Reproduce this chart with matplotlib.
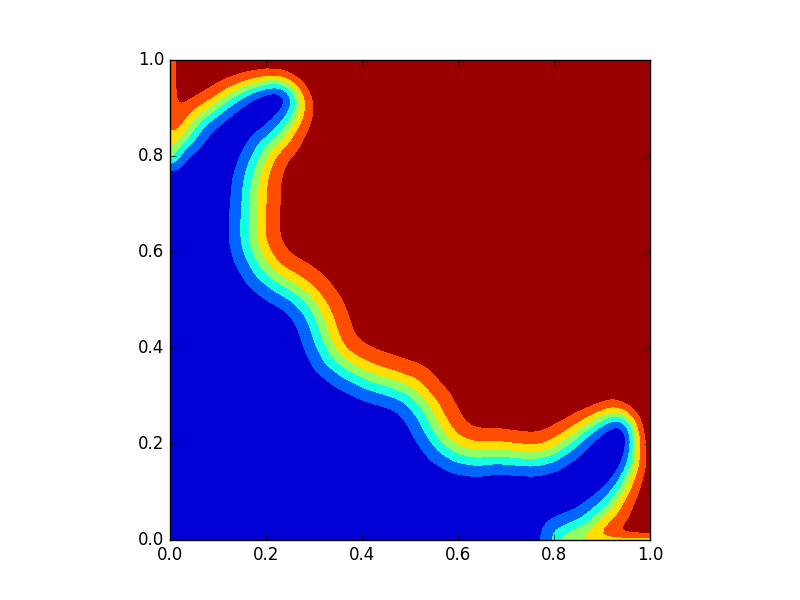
import numpy as np
import matplotlib
matplotlib.use("Agg")
import matplotlib.pyplot as plt
from matplotlib.path import Path

plt.style.use("classic")

# middle of the coloured band (value ~0.5), axes units
iface_x = [-0.008, -0.008, 0.0035, 0.0125, 0.0313, 0.0583, 0.0938, 0.1285,
           0.1625, 0.1979, 0.2327, 0.2583, 0.2667, 0.2625, 0.2521, 0.2292,
           0.2000, 0.1833, 0.1750, 0.1729, 0.1708, 0.1708, 0.1813, 0.2000,
           0.2292, 0.2604, 0.2833, 0.3021, 0.3146, 0.3250, 0.3417, 0.3708,
           0.4167, 0.4583, 0.5000, 0.5348, 0.5556, 0.5765, 0.6042, 0.6390,
           0.6806, 0.7152, 0.7569, 0.7917, 0.8265, 0.8604, 0.8958, 0.9229,
           0.9458, 0.9604, 0.9667, 0.9688, 0.9667, 0.9625, 0.9438, 0.9146,
           0.8688, 0.8188, 0.8160, 1.5]
iface_y = [1.5, 0.8000, 0.7979, 0.8188, 0.8369, 0.8750, 0.9010, 0.9256,
           0.9427, 0.9531, 0.9542, 0.9375, 0.9125, 0.8896, 0.8708, 0.8396,
           0.8125, 0.7771, 0.7438, 0.7083, 0.6667, 0.6250, 0.5938, 0.5625,
           0.5396, 0.5229, 0.5042, 0.4792, 0.4521, 0.4167, 0.3833, 0.3604,
           0.3375, 0.3250, 0.3104, 0.2708, 0.2292, 0.2015, 0.1840, 0.1771,
           0.1806, 0.1771, 0.1735, 0.1806, 0.2021, 0.2290, 0.2520, 0.2625,
           0.2583, 0.2438, 0.2229, 0.2021, 0.1771, 0.1521, 0.1104, 0.0688,
           0.0271, 0.0042, -0.001, -0.001]
# width of the band from 0.15 to 0.9 at each point (pixels of the 480 px axes)
band_px = [16, 16, 30, 34, 38, 40, 36, 33,
           28, 24, 21, 22, 26, 30, 34, 40,
           44, 46, 48, 49, 50, 50, 52, 52,
           52, 52, 52, 52, 52, 52, 52, 52,
           52, 52, 52, 52, 52, 52, 50, 48,
           45, 44, 43, 42, 40, 34, 28, 26,
           21, 18, 16, 17, 20, 23, 30, 40,
           47, 50, 10, 10]

levels = [0.0, 0.15, 0.3, 0.45, 0.6, 0.75, 0.9, 1.05]

px = np.array(iface_x)
py = np.array(iface_y)
eps = np.array(band_px) / 480.0 / 1.966

n = 250
gx, gy = np.meshgrid(np.linspace(0, 1, n), np.linspace(0, 1, n))
X = gx.ravel()
Y = gy.ravel()

# scaled distance to the nearest piece of the interface
s = np.full(X.shape, np.inf)
for i in range(len(px) - 1):
    ax_, ay_ = px[i], py[i]
    dx, dy = px[i + 1] - ax_, py[i + 1] - ay_
    t = ((X - ax_) * dx + (Y - ay_) * dy) / (dx * dx + dy * dy)
    t = np.clip(t, 0, 1)
    d = np.hypot(X - ax_ - t * dx, Y - ay_ - t * dy)
    e = eps[i] + t * (eps[i + 1] - eps[i])
    s = np.minimum(s, d / e)

poly = np.column_stack([np.r_[px, 1.5, -0.5, -0.5], np.r_[py, -0.5, -0.5, 1.5]])
inside = Path(poly).contains_points(np.column_stack([X, Y]))
sign = np.where(inside, -1.0, 1.0)
Z = (0.5 * (1 + sign * np.tanh(s))).reshape(gx.shape)

# soften the corners of the polyline
sig = 2.5
r = int(3 * sig)
k = np.exp(-0.5 * (np.arange(-r, r + 1) / sig) ** 2)
k /= k.sum()
P = np.pad(Z, r, mode="edge")
P = np.apply_along_axis(lambda v: np.convolve(v, k, mode="valid"), 0, P)
Z = np.apply_along_axis(lambda v: np.convolve(v, k, mode="valid"), 1, P)

fig = plt.figure(figsize=(8, 6))
ax = fig.add_subplot(111)
ax.contourf(gx, gy, Z, levels=levels, cmap="jet", vmin=0, vmax=1)
ax.set_xlim(0, 1)
ax.set_ylim(0, 1)
ax.set_aspect("equal")

fig.savefig("out.png", dpi=100)
